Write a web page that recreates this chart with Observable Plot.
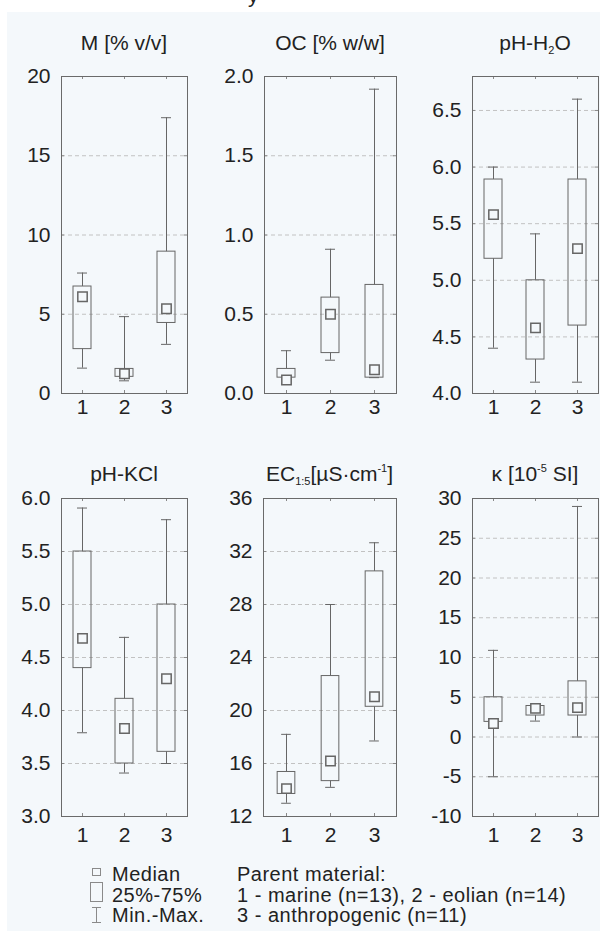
<!DOCTYPE html>
<html><head><meta charset="utf-8">
<script src="https://cdn.jsdelivr.net/npm/d3@7"></script>
<script src="https://cdn.jsdelivr.net/npm/@observablehq/plot@0.6"></script>
<style>
body{margin:0;background:#fff;}
#root{position:relative;width:600px;height:931px;overflow:hidden;font-family:"Liberation Sans",Arial,sans-serif;color:#222;}
#bg{position:absolute;left:7px;top:12px;right:0;bottom:0;background:#f4f8fb;}
.title{position:absolute;font-size:21px;line-height:21px;white-space:nowrap;transform:translateX(-50%);}
.title sub,.title sup{font-size:11px;vertical-align:baseline;position:relative;}
.title sub{top:4px;}
.title sup{top:-9px;}
.panel{position:absolute;}
.legend{position:absolute;font-size:20px;line-height:20px;height:20px;letter-spacing:0.5px;white-space:nowrap;}
.frag{position:absolute;font-size:21px;line-height:21px;}
</style></head>
<body>
<div id="root"><div id="bg"></div></div>
<script>
// ---- data ----
const groups = ["1", "2", "3"];

// M [% v/v]
const mMin = [1.6, 0.8, 3.1];
const mQ1  = [2.8, 1.05, 4.45];
const mMed = [6.1, 1.25, 5.35];
const mQ3  = [6.75, 1.55, 8.95];
const mMax = [7.6, 4.85, 17.4];
const mTicks = [0, 5, 10, 15, 20];

// OC [% w/w]
const ocMin = [0.06, 0.21, 0.10];
const ocQ1  = [0.10, 0.255, 0.10];
const ocMed = [0.085, 0.50, 0.15];
const ocQ3  = [0.155, 0.605, 0.685];
const ocMax = [0.27, 0.91, 1.92];
const ocTicks = [0, 0.5, 1.0, 1.5, 2.0];

// pH-H2O
const phwMin = [4.4, 4.1, 4.1];
const phwQ1  = [5.19, 4.3, 4.6];
const phwMed = [5.58, 4.58, 5.28];
const phwQ3  = [5.89, 5.0, 5.89];
const phwMax = [6.0, 5.41, 6.6];
const phwTicks = [4.0, 4.5, 5.0, 5.5, 6.0, 6.5];

// pH-KCl
const phkMin = [3.79, 3.41, 3.5];
const phkQ1  = [4.4, 3.5, 3.61];
const phkMed = [4.68, 3.83, 4.3];
const phkQ3  = [5.5, 4.11, 5.0];
const phkMax = [5.91, 4.69, 5.8];
const phkTicks = [3.0, 3.5, 4.0, 4.5, 5.0, 5.5, 6.0];

// EC 1:5 [uS/cm]
const ecMin = [13.0, 14.2, 17.7];
const ecQ1  = [13.7, 14.67, 20.28];
const ecMed = [14.1, 16.19, 21.04];
const ecQ3  = [15.36, 22.6, 30.5];
const ecMax = [18.2, 28.0, 32.66];
const ecTicks = [12, 16, 20, 24, 28, 32, 36];

// kappa [1e-5 SI]
const kMin = [-5.0, 2.0, 0.0];
const kQ1  = [1.9, 2.7, 2.7];
const kMed = [1.7, 3.6, 3.7];
const kQ3  = [5.0, 3.9, 7.0];
const kMax = [10.9, 3.9, 29.0];
const kTicks = [-10, -5, 0, 5, 10, 15, 20, 25, 30];

// legend texts
const legendSymbols = ["Median", "25%-75%", "Min.-Max."];
const legendParent = ["Parent material:", "1 - marine (n=13), 2 - eolian (n=14)", "3 - anthropogenic (n=11)"];

// ---- layout ----
const root = document.getElementById("root");
const BG = "#f4f8fb";
const INK = "#666";
const f1 = d => d.toFixed(1);
const f0 = d => String(d);

const panels = [
  {title: "M [% v/v]", stats: [mMin, mQ1, mMed, mQ3, mMax], ticks: mTicks, domain: [0, 20], fmt: f0,
   fx0: 61, fx1: 187, fy0: 76, fy1: 393, pad: 6},
  {title: "OC [% w/w]", stats: [ocMin, ocQ1, ocMed, ocQ3, ocMax], ticks: ocTicks, domain: [0, 2], fmt: f1,
   fx0: 264, fx1: 396, fy0: 76, fy1: 393, pad: 6},
  {title: "pH-H<sub>2</sub>O", stats: [phwMin, phwQ1, phwMed, phwQ3, phwMax], ticks: phwTicks, domain: [4, 6.8], fmt: f1,
   fx0: 472, fx1: 598, fy0: 76, fy1: 393, pad: 6},
  {title: "pH-KCl", stats: [phkMin, phkQ1, phkMed, phkQ3, phkMax], ticks: phkTicks, domain: [3, 6], fmt: f1,
   fx0: 61, fx1: 187, fy0: 498, fy1: 816, pad: 11},
  {title: "EC<sub>1:5</sub>[µS·cm<sup>-1</sup>]", stats: [ecMin, ecQ1, ecMed, ecQ3, ecMax], ticks: ecTicks, domain: [12, 36], fmt: f0,
   fx0: 263, fx1: 396, fy0: 498, fy1: 816, pad: 11},
  {title: "κ [10<sup>-5</sup> SI]", stats: [kMin, kQ1, kMed, kQ3, kMax], ticks: kTicks, domain: [-10, 30], fmt: f0,
   fx0: 472, fx1: 598, fy0: 498, fy1: 816, pad: 11}
];

panels.forEach((p, idx) => {
  const col = idx % 3;
  const left = col * 200;
  const width = 200;
  const mt = 20, mb = 32;
  const top = p.fy0 - mt;
  const height = p.fy1 - p.fy0 + mt + mb;
  const ml = p.fx0 - left;
  const mr = left + width - p.fx1;
  const pw = p.fx1 - p.fx0, ph = p.fy1 - p.fy0;
  const bw = pw / 3;
  const boxInset = (bw - 18) / 2;
  const capInset = (bw - 10) / 2;
  const [mn, q1, md, q3, mx] = p.stats;
  const rows = groups.map((g, i) => ({g, min: mn[i], q1: q1[i], med: md[i], q3: q3[i], max: mx[i]}));
  const grid = p.ticks.filter(v => v > p.domain[0] && v < p.domain[1]);

  const chart = Plot.plot({
    width, height,
    marginLeft: ml, marginRight: mr, marginTop: mt, marginBottom: mb,
    style: {background: "transparent", fontSize: "21px", fontFamily: "'Liberation Sans', Arial, sans-serif", color: "#222", overflow: "visible"},
    x: {type: "band", domain: groups, padding: 0, tickSize: 0, tickPadding: p.pad, label: null},
    y: {domain: p.domain, ticks: p.ticks, tickFormat: p.fmt, tickSize: 0, tickPadding: 11, label: null},
    marks: [
      Plot.ruleY(grid, {y: d => d, stroke: "#c2c2c2", strokeDasharray: "4,3"}),
      Plot.tickY(p.ticks, {y: d => d, insetRight: pw - 3, stroke: "#888"}),
      Plot.tickY(p.ticks, {y: d => d, insetLeft: pw - 3, stroke: "#888"}),
      Plot.tickX(groups, {x: d => d, insetBottom: ph - 3, stroke: "#888"}),
      Plot.tickX(groups, {x: d => d, insetTop: ph - 3, stroke: "#888"}),
      Plot.ruleX(rows, {x: "g", y1: "min", y2: "q1", stroke: INK}),
      Plot.ruleX(rows, {x: "g", y1: "q3", y2: "max", stroke: INK}),
      Plot.tickY(rows, {x: "g", y: "min", insetLeft: capInset, insetRight: capInset, stroke: INK}),
      Plot.tickY(rows, {x: "g", y: "max", insetLeft: capInset, insetRight: capInset, stroke: INK}),
      Plot.barY(rows, {x: "g", y1: "q1", y2: "q3", insetLeft: boxInset, insetRight: boxInset, fill: "none", stroke: INK}),
      Plot.dot(rows, {x: "g", y: "med", symbol: "square", r: 5.3, fill: BG, stroke: INK}),
      Plot.frame({stroke: "#6a6a6a"})
    ]
  });
  chart.classList.add("panel");
  chart.style.left = left + "px";
  chart.style.top = top + "px";
  root.appendChild(chart);

  const t = document.createElement("div");
  t.className = "title";
  t.innerHTML = p.title;
  t.style.left = ((p.fx0 + p.fx1) / 2) + "px";
  t.style.top = (idx < 3 ? 32 : 463) + "px";
  root.appendChild(t);
});

// fragment of cropped caption at the very top
const frag = document.createElement("div");
frag.className = "frag";
frag.textContent = "y";
frag.style.left = "248px";
frag.style.top = "-15px";
root.appendChild(frag);

// legend symbols
const ns = "http://www.w3.org/2000/svg";
const lg = document.createElementNS(ns, "svg");
lg.setAttribute("width", 30); lg.setAttribute("height", 70);
lg.style.position = "absolute"; lg.style.left = "82px"; lg.style.top = "860px";
lg.innerHTML = `
  <g fill="none" stroke="#8a8a8a" stroke-width="1">
    <rect x="10.5" y="8.5" width="8" height="7"/>
    <rect x="8.5" y="22.5" width="12" height="19"/>
    <line x1="14.5" y1="47.5" x2="14.5" y2="62.5"/>
    <line x1="10" y1="47.5" x2="19" y2="47.5"/>
    <line x1="10" y1="62.5" x2="19" y2="62.5"/>
  </g>`;
root.appendChild(lg);

function legendLines(lines, x) {
  lines.forEach((s, i) => {
    const d = document.createElement("div");
    d.className = "legend";
    d.style.left = x + "px";
    d.style.top = (864 + i * 20.5) + "px";
    d.textContent = s;
    root.appendChild(d);
  });
}
legendLines(legendSymbols, 112);
legendLines(legendParent, 237);
</script>
</body></html>
